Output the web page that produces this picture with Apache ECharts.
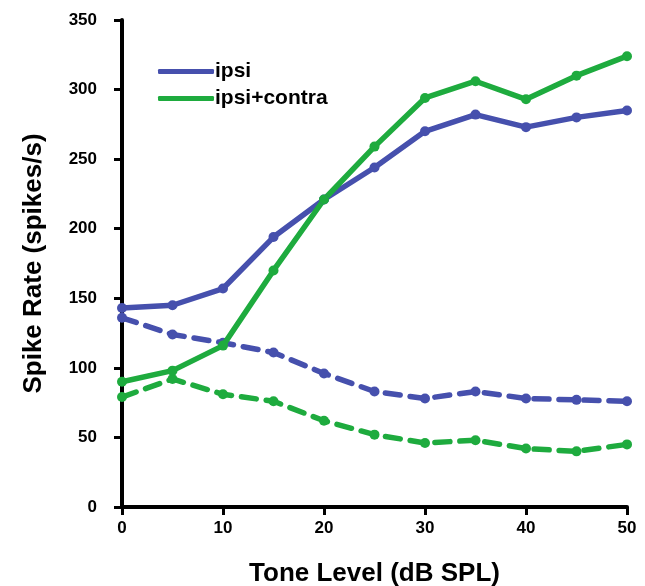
<!DOCTYPE html>
<html><head><meta charset="utf-8">
<script src="https://cdn.jsdelivr.net/npm/echarts@6/dist/echarts.min.js"></script>
<style>html,body{margin:0;padding:0;background:#fff}#c{width:645px;height:586px}</style>
</head><body><div id="c"></div>
<script>
const toneLevels = [0,5,10,15,20,25,30,35,40,45,50];
const ipsiSolid = [143,145,157,194,221,244,270,282,273,280,285];
const contraSolid = [90,98,116,170,221,259,294,306,293,310,324];
const ipsiDashed = [136,124,118,111,96,83,78,83,78,77,76];
const contraDashed = [79,92,81,76,62,52,46,48,42,40,45];
const BLUE = '#4650ad', GREEN = '#1eab3e';
const pairs = a => toneLevels.map((x,i)=>[x,a[i]]);
const font = 'Liberation Sans, Arial, Helvetica, sans-serif';
function series(name, data, color, dashed){
  return {name, type:'line', data:pairs(data), symbol:'circle', symbolSize:10,
    itemStyle:{color}, lineStyle:{color, width:5.5, type: dashed ? [15,10] : 'solid', cap:'round'},
    emphasis:{disabled:true}, z: dashed?2:3};
}
const chart = echarts.init(document.getElementById('c'));
chart.setOption({
  animation:false,
  grid:{left:122, right:18, top:20, bottom:79, containLabel:false, outerBoundsMode:'none'},
  legend:{data:[{name:'ipsi'},{name:'ipsi+contra'}], orient:'vertical', left:153, top:56,
    itemWidth:56, itemHeight:5, itemGap:6, icon:'roundRect',
    textStyle:{fontFamily:font, fontWeight:'bold', fontSize:21, color:'#000', padding:[0,0,0,-4]}},
  xAxis:{type:'value', min:0, max:50, interval:10,
    name:'Tone Level (dB SPL)', nameLocation:'middle', nameGap:54,
    nameTextStyle:{fontFamily:font, fontWeight:'bold', fontSize:26, color:'#000'},
    axisLine:{lineStyle:{color:'#000', width:4}},
    axisTick:{length:8, lineStyle:{color:'#000', width:3}},
    axisLabel:{fontFamily:font, fontWeight:'bold', fontSize:17, color:'#000', margin:13},
    splitLine:{show:false}},
  yAxis:{type:'value', min:0, max:350, interval:50,
    name:'Spike Rate (spikes/s)', nameLocation:'middle', nameGap:75, nameRotate:90,
    nameTextStyle:{fontFamily:font, fontWeight:'bold', fontSize:26, color:'#000'},
    axisLine:{lineStyle:{color:'#000', width:4}},
    axisTick:{length:8, lineStyle:{color:'#000', width:3}},
    axisLabel:{fontFamily:font, fontWeight:'bold', fontSize:17, color:'#000', margin:25},
    splitLine:{show:false}},
  series:[
    series('ipsi', ipsiSolid, BLUE, false),
    series('ipsi+contra', contraSolid, GREEN, false),
    series('ipsi dashed', ipsiDashed, BLUE, true),
    series('ipsi+contra dashed', contraDashed, GREEN, true)
  ]
});
</script></body></html>
